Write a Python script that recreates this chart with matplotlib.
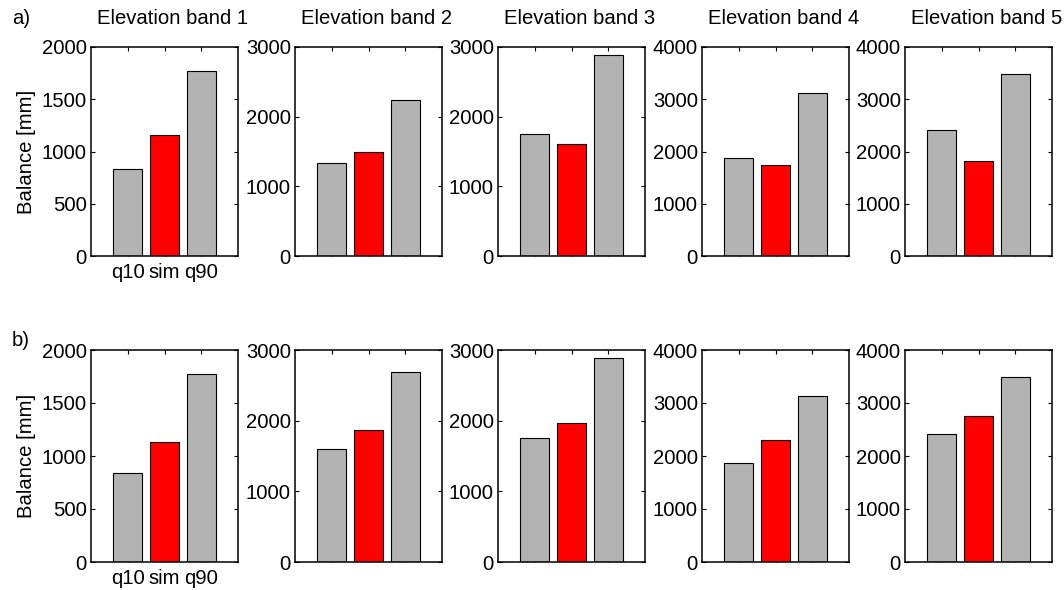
import matplotlib
matplotlib.use("Agg")
import matplotlib.pyplot as plt
import numpy as np

plt.rcParams['font.family'] = ['Liberation Sans', 'DejaVu Sans']

categories = ['q10', 'sim', 'q90']
band_titles = ['Elevation band 1', 'Elevation band 2', 'Elevation band 3',
               'Elevation band 4', 'Elevation band 5']
row_labels = ['a)', 'b)']

# Balance [mm] per elevation band: q10, sim, q90
balance_a = [
    [837, 1160, 1766],
    [1339, 1488, 2242],
    [1757, 1603, 2885],
    [1884, 1736, 3125],
    [2418, 1820, 3479],
]
balance_b = [
    [838, 1133, 1778],
    [1606, 1871, 2693],
    [1748, 1961, 2887],
    [1871, 2300, 3128],
    [2414, 2755, 3482],
]
ylims = [2000, 3000, 3000, 4000, 4000]
ysteps = [500, 1000, 1000, 1000, 1000]

W, H = 1064, 590
fig = plt.figure(figsize=(W / 100, H / 100), dpi=100)

lefts = [91, 295, 498, 702, 905]
width = 147
rows = [(47, 256), (350, 562)]
FS = 14.6
gray = '#b3b3b3'
red = '#ff0000'

for r, (data, (top, bottom)) in enumerate(zip([balance_a, balance_b], rows)):
    for i in range(5):
        ax = fig.add_axes([lefts[i] / W, 1 - bottom / H, width / W, (bottom - top) / H])
        x = np.arange(1, 4)
        ax.bar(x, data[i], width=0.8, color=[gray, red, gray],
               edgecolor='black', linewidth=0.8, zorder=2)
        ax.set_xlim(0, 4)
        ax.set_ylim(0, ylims[i])
        ax.set_yticks(np.arange(0, ylims[i] + 1, ysteps[i]))
        ax.set_xticks(x)
        if i == 0:
            ax.set_xticklabels(categories)
            ax.set_ylabel('Balance [mm]', fontsize=FS, labelpad=4)
        else:
            ax.set_xticklabels([])
        ax.tick_params(direction='in', length=3, width=0.8, labelsize=FS,
                       top=True, right=True, pad=3)
        ax.tick_params(axis='x', pad=5)
        for s in ax.spines.values():
            s.set_linewidth(1.1)
        if r == 0:
            cx = (lefts[i] + width / 2 + 8) / W
            fig.text(cx, 1 - 18 / H, band_titles[i], ha='center', va='center',
                     fontsize=FS)

fig.text(12 / W, 1 - 18 / H, row_labels[0], ha='left', va='center', fontsize=FS)
fig.text(12 / W, 1 - 340 / H, row_labels[1], ha='left', va='center', fontsize=FS)

fig.savefig('out.png', dpi=100)
